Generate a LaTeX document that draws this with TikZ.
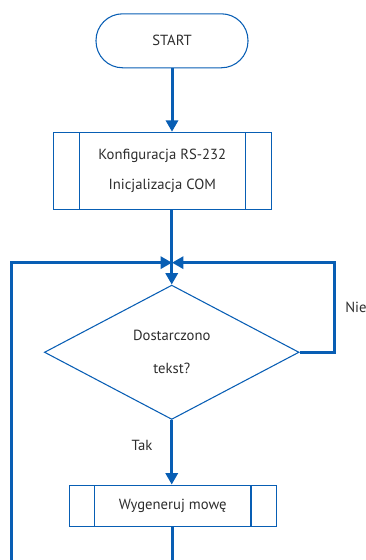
\documentclass[tikz,border=0pt]{standalone}
\usepackage{fontspec}
\setmainfont{PT Sans}
\usepackage{tikz}
\usetikzlibrary{shapes.geometric, arrows.meta}
\definecolor{flowblue}{RGB}{8,94,180}
\definecolor{flowtext}{RGB}{45,45,45}
\tikzstyle{startstop} = [rectangle, rounded corners=20pt, minimum width=114pt, minimum height=40.5pt, text centered, draw=flowblue, line width=0.8pt, text=flowtext, font=\fontsize{11}{13}\selectfont]
\tikzstyle{decision} = [diamond, aspect=1.9, minimum width=191pt, minimum height=100.75pt, inner sep=0pt, align=center, draw=flowblue, line width=0.8pt, text=flowtext, font=\fontsize{11}{24.75}\selectfont]
\tikzstyle{arrow} = [flowblue, line width=2.25pt, -{Triangle[length=8.5pt,width=9pt]}]
\tikzstyle{line} = [flowblue, line width=2.25pt]
\tikzstyle{label} = [text=flowtext, font=\fontsize{11}{13}\selectfont]
\tikzset{subprocess/.style={rectangle, align=center, draw=flowblue, line width=0.8pt, text=flowtext, font=\fontsize{11}{22}\selectfont,
    path picture={
      \draw[flowblue, line width=0.8pt] ([xshift=#1]path picture bounding box.north west) -- ([xshift=#1]path picture bounding box.south west);
      \draw[flowblue, line width=0.8pt] ([xshift=-#1]path picture bounding box.north east) -- ([xshift=-#1]path picture bounding box.south east);
    }}}

\begin{document}
\begin{tikzpicture}[node distance=97.5pt]
            \useasboundingbox (-129pt,30.6pt) rectangle (144.75pt,-389.4pt);
            % Nodes
            \node (start) [startstop] {START};
            \node (config) [subprocess=19.6pt, below of=start, xshift=-7.3pt, minimum width=163.5pt, minimum height=57.75pt] {Konfiguracja RS-232\\Inicjalizacja COM};
            \node (check) [decision, below of=config, yshift=-38.6pt, xshift=7.1pt] {Dostarczono\\tekst?};
            \node (speak) [subprocess=18.9pt, below of=check, yshift=-17.6pt, xshift=0.7pt, minimum width=155.25pt, minimum height=31pt] {Wygeneruj mowę};

            % Loop points
            \coordinate (join) at (0pt,-166.4pt);
            \coordinate (loopR) at (121.5pt,-166.4pt);
            \coordinate (loopL) at (-120pt,-389.4pt);

            % Arrows
            \draw [arrow] (start) -- (start |- config.north);
            \draw [arrow] (check.north |- config.south) -- (check.north);
            \draw [arrow] (check.east) -| (loopR) node[pos=0.75, right=4pt, label] {Nie} -- (join);
            \draw [arrow] (loopL) |- (join);
            \draw [arrow] (check.south) -- (check.south |- speak.north) node[pos=0.4, left=10pt, label] {Tak};
            \draw [line] (speak.south) -- (speak.south |- loopL);
        \end{tikzpicture}
\end{document}
